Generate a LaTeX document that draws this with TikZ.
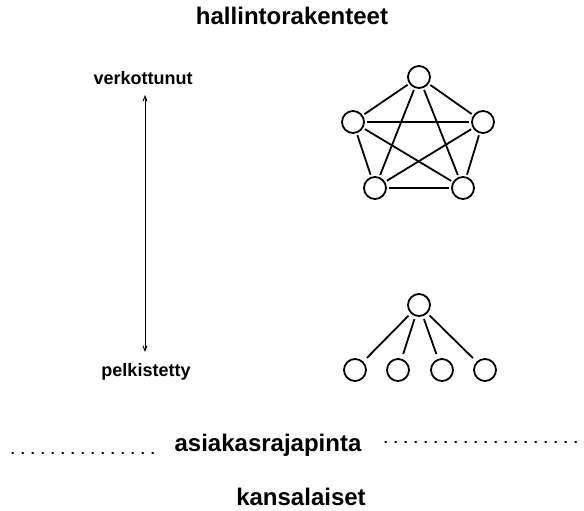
\documentclass[tikz,border=0pt]{standalone}
\usepackage{fontspec}
\setmainfont{Liberation Sans}
\usetikzlibrary{arrows.meta}
\begin{document}
\begin{tikzpicture}[x=1pt,y=-1pt,
  nd/.style={circle,draw,line width=1.8pt,minimum size=22pt,inner sep=0pt},
  edge/.style={line width=1.8pt,shorten <=2pt,shorten >=2pt},
  lab/.style={font=\bfseries\fontsize{18}{20}\selectfont,inner sep=0pt},
  big/.style={font=\bfseries\fontsize{24}{28}\selectfont,inner sep=0pt},
  dotline/.style={line width=1.3pt,dash pattern=on 1.3pt off 8.7pt,line cap=round}]
\useasboundingbox (0,0) rectangle (584,511);
% titles
\node[big] (top) at (292,16) {hallintorakenteet};
\node[big] (bot) at (301,497) {kansalaiset};
\node[big] (ar) at (268,445) {asiakasrajapinta};
% left labels and arrow
\node[lab] (verk) at (143,78) {verkottunut};
\node[lab] (pelk) at (146,372) {pelkistetty};
\coordinate (atop) at (145,95);
\coordinate (abot) at (145,352);
\draw[line width=0.9pt,{Straight Barb[length=5pt,width=4pt]}-{Straight Barb[length=5pt,width=4pt]}] (atop) -- (abot);
% pentagon
\node[nd] (p1) at (419,77) {};
\node[nd] (p2) at (353,122) {};
\node[nd] (p3) at (483,122) {};
\node[nd] (p4) at (375,188) {};
\node[nd] (p5) at (463,188) {};
\foreach \a/\b in {p1/p2,p1/p3,p1/p4,p1/p5,p2/p3,p2/p4,p2/p5,p3/p4,p3/p5,p4/p5}
  \draw[edge] (\a) -- (\b);
% tree
\node[nd] (t0) at (419,305) {};
\node[nd] (t1) at (355,370) {};
\node[nd] (t2) at (398,370) {};
\node[nd] (t3) at (442,370) {};
\node[nd] (t4) at (485,370) {};
\foreach \b in {t1,t2,t3,t4}
  \draw[edge,shorten <=3pt,shorten >=5pt] (t0) -- (\b);
% dotted lines
\coordinate (l1) at (12,453);
\coordinate (l2) at (155,453);
\coordinate (r1) at (385,442);
\coordinate (r2) at (584,442);
\draw[dotline] (l1) -- (l2);
\draw[dotline] (r1) -- (r2);
\end{tikzpicture}
\end{document}
